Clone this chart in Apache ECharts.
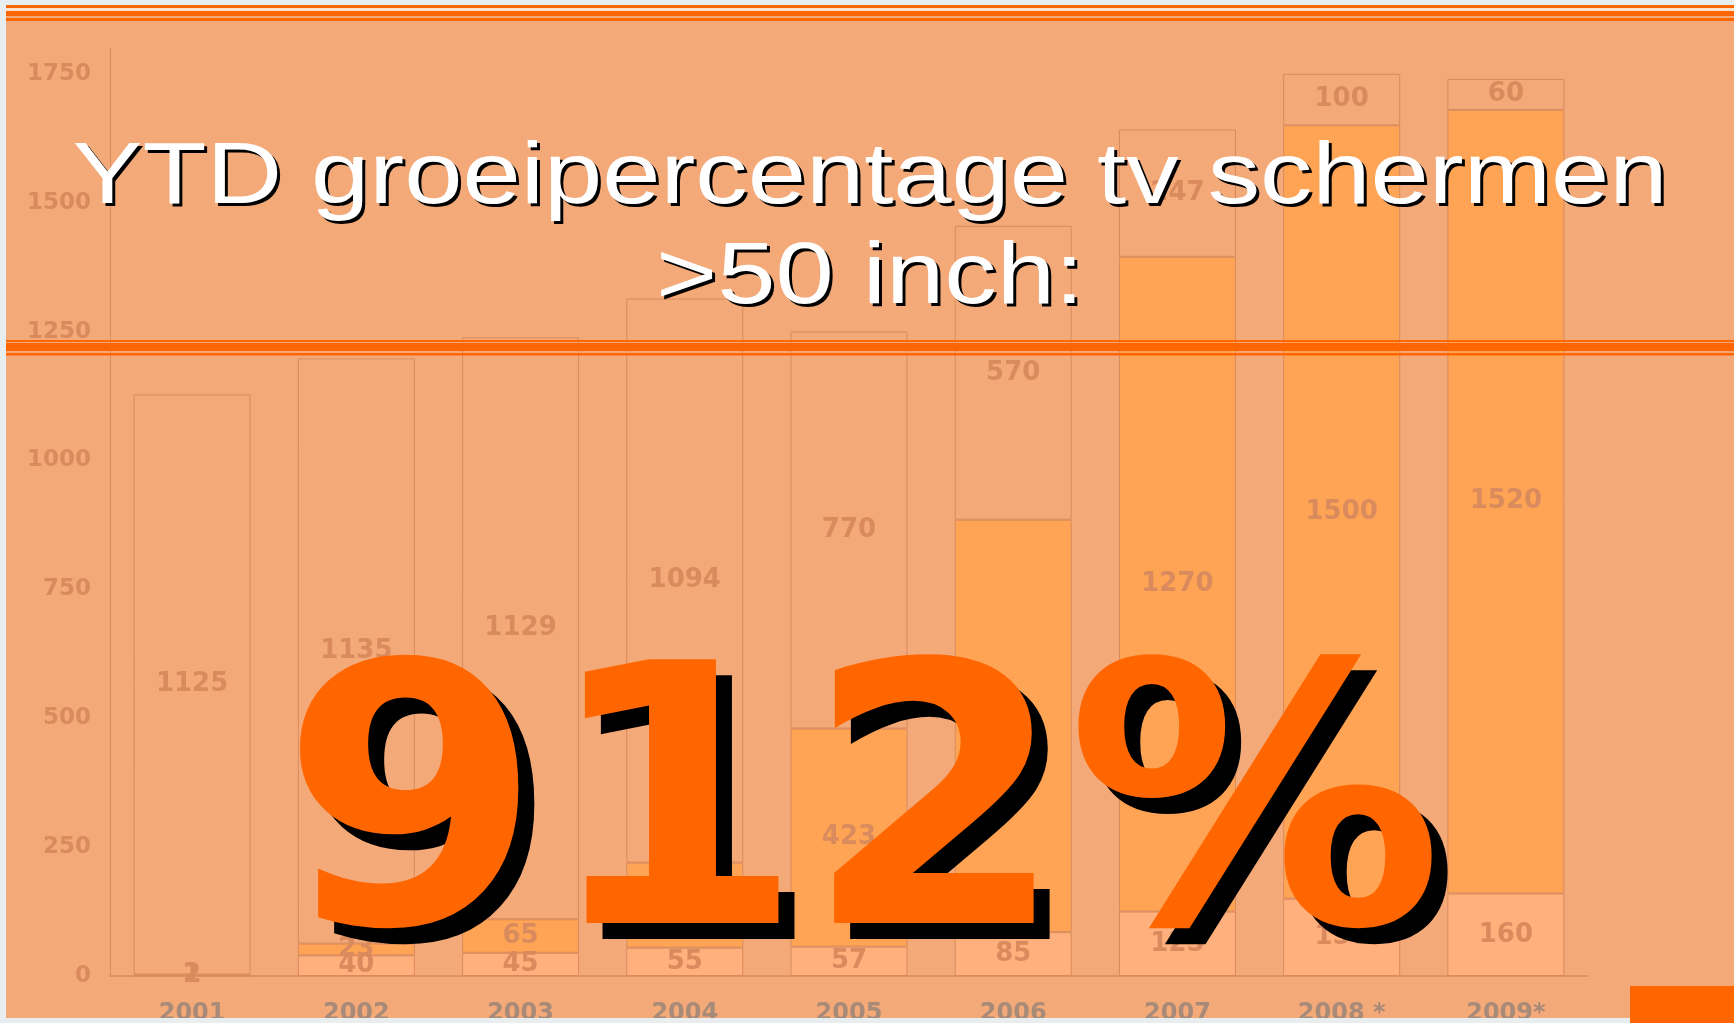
<!DOCTYPE html>
<html><head><meta charset="utf-8">
<script src="https://cdn.jsdelivr.net/npm/echarts@6/dist/echarts.min.js"></script>
<style>html,body{margin:0;padding:0;background:#e8eef0;}#c{width:1734px;height:1023px;}</style>
</head><body><div id="c"></div>
<script>
var categories = ['2001','2002','2003','2004','2005','2006','2007','2008 *','2009*'];
var bottomValues = [1, 40, 45, 55, 57, 85, 125, 150, 160];
var middleValues = [2, 23, 65, 165, 423, 800, 1270, 1500, 1520];
var topValues = [1125, 1135, 1129, 1094, 770, 570, 247, 100, 60];
var yTicks = [0, 250, 500, 750, 1000, 1250, 1500, 1750];
var titleLines = ['YTD groeipercentage tv schermen', '>50 inch:'];
var bigText = '912%';

var PEACH = '#F3A978', ORANGE = '#FF6600', EDGE = '#D98B5E', GRAY = '#e8eef0';
var chart = echarts.init(document.getElementById('c'));
var lbl = {show: true, position: 'inside', color: EDGE, fontFamily: 'DejaVu Sans', fontWeight: 'bold', fontSize: 26};
function ser(name, data, color) {
  return {name: name, type: 'bar', stack: 's', data: data, barWidth: 117,
    itemStyle: {color: color, borderColor: EDGE, borderWidth: 1}, label: lbl};
}
function hline(y, h, c, z) { return {type: 'rect', shape: {x: 6, y: y, width: 1728, height: h}, style: {fill: c}, z: z, silent: true}; }
function txt(s, x, y, font, fill, sx, z) {
  return {type: 'text', x: x, y: y, scaleX: sx, z: z, silent: true,
    style: {text: s, font: font, fill: fill, textAlign: 'center', textVerticalAlign: 'middle'}};
}
var elements = [
  hline(5, 3, ORANGE, 50), hline(8, 3, '#fbe2cf', 50), hline(11, 5, ORANGE, 50), hline(18, 3, ORANGE, 50),
  hline(340, 2, ORANGE, 50), hline(343, 8, ORANGE, 50), hline(353, 2.5, ORANGE, 50)
];
var tf = 'normal 88px "Liberation Sans", Arial, sans-serif';
titleLines.forEach(function (t, i) {
  var y = 179 + i * 100;
  elements.push(txt(t, 873, y + 3, tf, '#000', 1.19, 60));
  elements.push(txt(t, 870, y, tf, '#fff', 1.19, 61));
});
var bf = 'bold 362px "DejaVu Sans", sans-serif';
elements.push(txt(bigText, 878, 845, bf, '#000', 1.04, 60));
elements.push(txt(bigText, 862, 829, bf, ORANGE, 1.04, 61));
elements.push({type: 'rect', shape: {x: 0, y: 0, width: 6, height: 1023}, style: {fill: GRAY}, z: 100, silent: true});
elements.push({type: 'rect', shape: {x: 0, y: 0, width: 1734, height: 5}, style: {fill: GRAY}, z: 100, silent: true});
elements.push({type: 'rect', shape: {x: 0, y: 1018, width: 1734, height: 5}, style: {fill: GRAY}, z: 100, silent: true});
elements.push({type: 'rect', shape: {x: 1630, y: 986, width: 104, height: 37}, style: {fill: ORANGE}, z: 110, silent: true});

chart.setOption({
  backgroundColor: PEACH,
  animation: false,
  grid: {left: 110, right: 146, top: 48, bottom: 47, containLabel: false, outerBoundsMode: 'none'},
  xAxis: {type: 'category', data: categories,
    axisLine: {lineStyle: {color: EDGE, width: 1.5}}, axisTick: {show: false},
    axisLabel: {color: '#a88a78', fontFamily: 'DejaVu Sans', fontWeight: 'bold', fontSize: 24, margin: 26}},
  yAxis: {type: 'value', min: 0, max: 1800, interval: 250,
    axisLine: {show: true, lineStyle: {color: EDGE, width: 1}}, axisTick: {show: false}, splitLine: {show: false},
    axisLabel: {showMaxLabel: false, color: EDGE, fontFamily: 'DejaVu Sans', fontWeight: 'bold', fontSize: 23, margin: 19, padding: [12, 0, 0, 0],
      formatter: function (v) { return yTicks.indexOf(v) >= 0 ? String(v) : ''; }}},
  series: [ser('bottom', bottomValues, '#FFB07C'), ser('middle', middleValues, '#FFA354'), ser('top', topValues, PEACH)],
  graphic: {elements: elements}
});
</script></body></html>
